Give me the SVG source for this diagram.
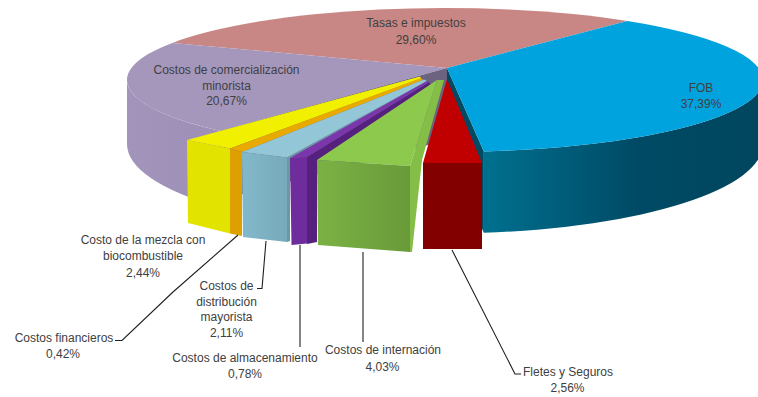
<svg xmlns="http://www.w3.org/2000/svg" width="758" height="397" viewBox="0 0 758 397">
<defs>
<style>
.lbl{font-family:"Liberation Sans",Arial,sans-serif;font-size:12px;fill:#404040;text-anchor:middle}
.lead{stroke:#1f1f1f;stroke-width:1.1;fill:none}
</style>
<linearGradient id="gBlueSide" gradientUnits="userSpaceOnUse" x1="484" y1="0" x2="763" y2="0">
<stop offset="0" stop-color="#00708F"/>
<stop offset="0.55" stop-color="#004A65"/>
<stop offset="1" stop-color="#00465E"/>
</linearGradient>
<linearGradient id="gLav" gradientUnits="userSpaceOnUse" x1="127" y1="0" x2="220" y2="0">
<stop offset="0" stop-color="#A294BA"/>
<stop offset="1" stop-color="#9D8FB5"/>
</linearGradient>
<linearGradient id="gGreen" gradientUnits="userSpaceOnUse" x1="317" y1="0" x2="410" y2="0">
<stop offset="0" stop-color="#7BB244"/>
<stop offset="1" stop-color="#699A39"/>
</linearGradient>
<linearGradient id="gLB" gradientUnits="userSpaceOnUse" x1="242" y1="0" x2="287" y2="0">
<stop offset="0" stop-color="#82B9CA"/>
<stop offset="1" stop-color="#77AABB"/>
</linearGradient>
</defs>

<g id="tasas">
<path d="M447,68 L172.4,42.9 A318,72 0 0,1 627.4,21 Z" fill="#C88784"/>
<text class="lbl" x="416" y="27">Tasas e impuestos</text>
<text class="lbl" x="416" y="44">29,60%</text>
</g>

<g id="minorista">
<path d="M127,80 A318,72 0 0,0 220.1,130.9 L220.1,207.3 A318,89.5 0 0,1 127,144 Z" fill="url(#gLav)"/>
<path d="M447,68 L172.4,42.9 A318,72 0 0,0 220.1,130.9 Z" fill="#A597BC"/>
<path d="M447,68 L220.1,130.9 L220.1,200 L447,140 Z" fill="#6B6380"/>
<text class="lbl" x="226.5" y="74">Costos de comercialización</text>
<text class="lbl" x="226.5" y="89.5">minorista</text>
<text class="lbl" x="226.5" y="105">20,67%</text>
</g>

<g id="fob">
<path d="M763,80 A318,72 0 0,1 483.8,151.5 L483.8,232.8 A318,89.5 0 0,0 763,144 Z" fill="url(#gBlueSide)"/>
<path d="M447,68 L483.8,151.5 L483.8,232.8 L447,150 Z" fill="#004A63"/>
<path d="M447,68 L627.4,21 A318,72 0 0,1 763,80 A318,72 0 0,1 483.8,151.5 Z" fill="#00A3DD"/>
<text class="lbl" x="701" y="92">FOB</text>
<text class="lbl" x="701" y="108">37,39%</text>
</g>

<g id="mezcla">
<path d="M187,140 L230,148.5 L421,78.5 L420,76.5 Z" fill="#F0F000"/>
<path d="M187,140 L230,148.5 L230,233.5 L188,223 Z" fill="#E3E300"/>
<text class="lbl" x="143" y="244">Costo de la mezcla con</text>
<text class="lbl" x="143" y="260">biocombustible</text>
<text class="lbl" x="143" y="276.5">2,44%</text>
</g>

<g id="financieros">
<path d="M230,148.5 L242,152 L423,80 L421,78 Z" fill="#E8AA00"/>
<path d="M230,148.5 L242,152 L242,236 L230,233.5 Z" fill="#DDA000"/>
<text class="lbl" x="64" y="342">Costos financieros</text>
<text class="lbl" x="63" y="357.5">0,42%</text>
</g>

<g id="distribucion">
<path d="M287,157.5 L427,81 L428,84 L290,160 L290,241 L287,242 Z" fill="#6C98A6"/>
<path d="M242,152 L287,157.5 L427,81 L424,79.5 Z" fill="#93C7D7"/>
<path d="M242,152 L287,157.5 L287,242 L243,237 Z" fill="url(#gLB)"/>
<text class="lbl" x="226.5" y="290">Costos de</text>
<text class="lbl" x="226.5" y="305.5">distribución</text>
<text class="lbl" x="226.5" y="321">mayorista</text>
<text class="lbl" x="226.5" y="337">2,11%</text>
</g>

<g id="almacenamiento">
<path d="M307,157 L429,82 L433,90 L317,162 L317,242 L307,244 Z" fill="#55207E"/>
<path d="M290,158 L307,157 L429,82 L427,81 Z" fill="#7A36AA"/>
<path d="M290,158 L307,157 L307,243.5 L291.5,245 Z" fill="#6E2C9C"/>
<text class="lbl" x="245" y="361.5">Costos de almacenamiento</text>
<text class="lbl" x="245" y="378">0,78%</text>
</g>

<g id="internacion">
<path d="M410,166 L437,80 L444,80 L422,160 L412,252 L410,252 Z" fill="#85BE47"/>
<path d="M317,160 L410,166 L437,80 Z" fill="#8DC94D"/>
<path d="M317,160 L410,166 L410,252 L318,245 Z" fill="url(#gGreen)"/>
<text class="lbl" x="383" y="354">Costos de internación</text>
<text class="lbl" x="382.5" y="370.5">4,03%</text>
</g>

<g id="fletes">
<path d="M447,79 L423,163 L482,163 Z" fill="#C00000"/>
<path d="M423,163 L482,163 L482,249 L423,249 Z" fill="#830000"/>
<text class="lbl" x="568" y="376">Fletes y Seguros</text>
<text class="lbl" x="567.5" y="392">2,56%</text>
</g>

<g id="connectors">
<polyline class="lead" points="115,340.5 122,340.5 173,292 238,235"/>
<polyline class="lead" points="257,288.5 262,288.5 266,241"/>
<line class="lead" x1="300" y1="347" x2="300" y2="245"/>
<line class="lead" x1="363" y1="342" x2="363" y2="252"/>
<polyline class="lead" points="452,250 515,374 521,374"/>
</g>
</svg>
